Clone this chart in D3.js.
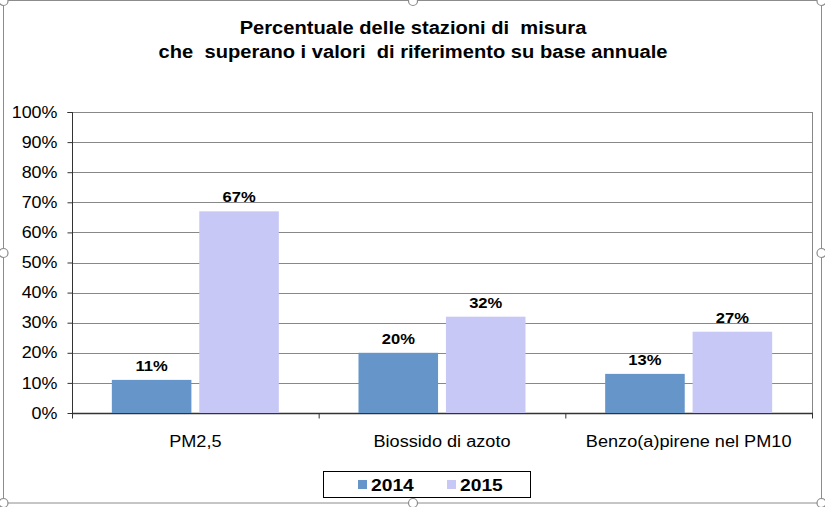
<!DOCTYPE html>
<html><head><meta charset="utf-8">
<script src="https://cdnjs.cloudflare.com/ajax/libs/d3/7.8.5/d3.min.js"></script>
<style>body{margin:0;background:#fff}svg{display:block;font-family:Arial,"Liberation Sans",sans-serif}</style>
</head><body><svg id="c" width="825" height="507"></svg>
<script>
const categories = ["PM2,5", "Biossido di azoto", "Benzo(a)pirene nel PM10"];
const series = ["2014", "2015"];
const values2014 = [0.11, 0.20, 0.13];
const values2015 = [0.67, 0.32, 0.27];
const yTicks = [0, 0.1, 0.2, 0.3, 0.4, 0.5, 0.6, 0.7, 0.8, 0.9, 1.0];
const titleLines = ["Percentuale delle stazioni di  misura", "che  superano i valori  di riferimento su base annuale"];
const colors = {"2014": "#6595C9", "2015": "#C8C8F6"};

const SX = 1.12; // horizontal stretch of text
const svg = d3.select("#c");
const L = 72, R = 812, T = 112, B = 413;

function stretchText(sel, x, y, sx = SX) {
  sel.attr("transform", (d, i) => `translate(${typeof x === "function" ? x(d, i) : x},${typeof y === "function" ? y(d, i) : y}) scale(${sx},1)`)
     .attr("x", 0).attr("y", 0);
}

// chart frame
svg.append("rect").attr("x", 3.5).attr("y", 0.5).attr("width", 818).attr("height", 502.5)
  .attr("fill", "#fff").attr("stroke", "#8c8c8c").attr("stroke-width", 1);

const x0 = d3.scaleBand().domain(categories).range([L, R]);
const GW = 167;
const x1 = d3.scaleBand().domain(series).range([0, GW]).paddingInner(0.09);
const y = d3.scaleLinear().domain([0, 1]).range([B, T]);

// gridlines
svg.append("g").selectAll("line").data(yTicks.slice(1)).join("line")
  .attr("x1", L).attr("x2", R).attr("y1", d => Math.round(y(d)) + 0.5).attr("y2", d => Math.round(y(d)) + 0.5)
  .attr("stroke", "#888").attr("stroke-width", 1);
svg.append("line").attr("x1", R + 0.5).attr("x2", R + 0.5).attr("y1", T).attr("y2", B).attr("stroke", "#888");

// y axis
const yAxis = d3.axisLeft(y).tickValues(yTicks).tickFormat(d3.format(".0%")).tickSize(5).tickPadding(10);
const gy = svg.append("g").attr("transform", `translate(${L + 0.5},0)`).call(yAxis);
gy.select(".domain").attr("stroke", "#333").attr("d", `M-5,${T}.5H0V${B}.5`);
gy.selectAll(".tick line").attr("stroke", "#333");
gy.selectAll(".tick text").attr("font-size", 16).attr("fill", "#000")
  .attr("font-family", "Arial, 'Liberation Sans', sans-serif")
  .attr("transform", `translate(-15,0) scale(${SX},1)`).attr("x", 0);

// x axis
const gx = svg.append("g").attr("transform", `translate(0,${B + 0.5})`);
gx.append("line").attr("x1", L).attr("x2", R + 1).attr("stroke", "#333").attr("stroke-width", 1.5);
const bounds = [L, ...categories.map(c => x0(c) + x0.bandwidth())];
gx.selectAll("line.t").data(bounds).join("line").attr("class", "t")
  .attr("x1", d => d + 0.5).attr("x2", d => d + 0.5).attr("y1", 0).attr("y2", 5).attr("stroke", "#333");
gx.selectAll("text").data(categories).join("text")
  .attr("text-anchor", "middle").attr("font-size", 16.2).attr("fill", "#000").text(d => d)
  .call(stretchText, d => x0(d) + x0.bandwidth() / 2, 33);

// bars
const data = categories.map((c, i) => ({cat: c, vals: [{s: "2014", v: values2014[i]}, {s: "2015", v: values2015[i]}]}));
const groups = svg.append("g").selectAll("g").data(data).join("g")
  .attr("transform", d => `translate(${x0(d.cat) + x0.bandwidth() / 2 - GW / 2},0)`);
groups.selectAll("rect").data(d => d.vals).join("rect")
  .attr("x", d => x1(d.s)).attr("width", x1.bandwidth())
  .attr("y", d => y(d.v)).attr("height", d => B - y(d.v)).attr("fill", d => colors[d.s]);
groups.selectAll("text").data(d => d.vals).join("text")
  .attr("text-anchor", "middle").attr("font-size", 14.8).attr("font-weight", "bold").attr("fill", "#000")
  .text(d => d3.format(".0%")(d.v))
  .call(stretchText, d => x1(d.s) + x1.bandwidth() / 2, d => y(d.v) - 9);

// title
svg.append("g").selectAll("text").data(titleLines).join("text")
  .attr("text-anchor", "middle").attr("font-size", 19).attr("font-weight", "bold").attr("fill", "#000")
  .attr("xml:space", "preserve").style("white-space", "pre").text(d => d)
  .call(stretchText, 413, (d, i) => 34 + i * 24, 1.06);

// legend
const lg = svg.append("g");
lg.append("rect").attr("x", 323.5).attr("y", 471.5).attr("width", 207).attr("height", 26)
  .attr("fill", "#fff").attr("stroke", "#000");
const li = lg.selectAll("g").data(series).join("g").attr("transform", (d, i) => `translate(${358 + i * 89},0)`);
li.append("rect").attr("x", 0).attr("y", 480).attr("width", 9).attr("height", 9).attr("fill", d => colors[d]);
li.append("text").attr("font-size", 17.2).attr("font-weight", "bold").attr("fill", "#000").text(d => d)
  .call(stretchText, 13, 491);

// selection handles
const handles = [[413, 1], [3.5, 253], [821.5, 253], [413, 503], [3.5, 503], [821.5, 1], [3.5, 1], [821.5, 503]];
svg.append("g").selectAll("circle").data(handles).join("circle")
  .attr("cx", d => d[0]).attr("cy", d => d[1]).attr("r", 4.5)
  .attr("fill", "#fff").attr("stroke", "#8c8c8c").attr("stroke-width", 1.2);
</script></body></html>
